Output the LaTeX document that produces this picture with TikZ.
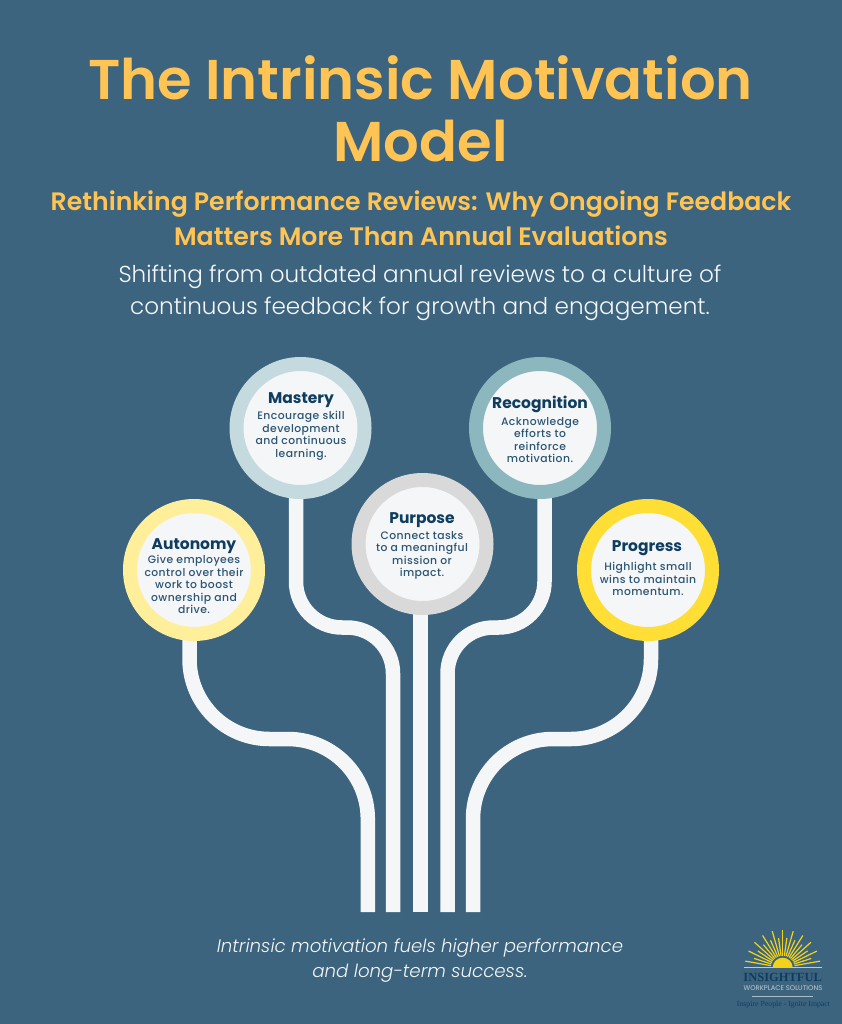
\documentclass[tikz,border=0pt]{standalone}
\usepackage{fontspec}
\setmainfont{Poppins}
\newfontfamily\semifont{Poppins SemiBold}
\newfontfamily\lightfont{Poppins Light}
\newfontfamily\medfont{Poppins Medium}[LetterSpace=4]
\usetikzlibrary{backgrounds}
\definecolor{panelblue}{HTML}{3D647E}
\definecolor{stemwhite}{HTML}{F4F6F8}
\definecolor{titlegold}{HTML}{FFC453}
\definecolor{headnavy}{HTML}{0F3D5F}
\definecolor{textnavy}{HTML}{2C5572}
\definecolor{ringauto}{HTML}{FFEF9A}
\definecolor{ringmast}{HTML}{C5DADF}
\definecolor{ringpurp}{HTML}{D9D9D9}
\definecolor{ringreco}{HTML}{8DB7BF}
\definecolor{ringprog}{HTML}{FFDF35}
\definecolor{sunyellow}{HTML}{F2D21B}
\tikzset{
  ring/.style={circle,draw=#1,fill=stemwhite,line width=14,minimum size=128,inner sep=0,outer sep=0},
  stem/.style={draw=stemwhite,line width=14.5},
  headtext/.style={text=headnavy,font=\bfseries\fontsize{15.5}{18}\selectfont},
  bodytext/.style={text=textnavy,align=center,font=\medfont\fontsize{10.8}{12.5}\selectfont},
}
\begin{document}
\begin{tikzpicture}[x=1pt,y=-1pt]
	\useasboundingbox (0,0) rectangle (842,1024);
	%%%%% TEXT %%%%%
	\node[text=titlegold,align=center,font=\semifont\fontsize{56}{62}\selectfont] (title) at (420.5,108.5) {The Intrinsic Motivation\\Model};
	\node[text=titlegold,align=center,font=\semifont\fontsize{25.2}{35}\selectfont] (subtitle) at (421,218) {Rethinking Performance Reviews: Why Ongoing Feedback\\Matters More Than Annual Evaluations};
	\node[text=stemwhite,align=center,font=\lightfont\fontsize{23.1}{32}\selectfont] (intro) at (420,293) {Shifting from outdated annual reviews to a culture of\\continuous feedback for growth and engagement.};
	\node[text=stemwhite,align=center,font=\lightfont\itshape\fontsize{18.2}{25}\selectfont] (closing) at (420,961) {Intrinsic motivation fuels higher performance\\and long-term success.};

	%%%%% CIRCLES %%%%%
	\node[ring=ringauto] (autonomy) at (194,570) {};
	\node[ring=ringmast] (mastery) at (300.5,428) {};
	\node[ring=ringpurp] (purpose) at (422.5,544) {};
	\node[ring=ringreco] (recognition) at (540,428) {};
	\node[ring=ringprog] (progress) at (648,570) {};

	\node[headtext] (autonomyhead) at (194,546) {Autonomy};
	\node[bodytext] (autonomybody) at (194,584.5) {Give employees\\control over their\\work to boost\\ownership and\\drive.};
	\node[headtext] (masteryhead) at (301,400) {Mastery};
	\node[bodytext] (masterybody) at (301,436) {Encourage skill\\development\\and continuous\\learning.};
	\node[headtext] (purposehead) at (422,520) {Purpose};
	\node[bodytext] (purposebody) at (422,555.5) {Connect tasks\\to a meaningful\\mission or\\impact.};
	\node[headtext] (recognitionhead) at (540,404) {Recognition};
	\node[bodytext] (recognitionbody) at (540,440) {Acknowledge\\efforts to\\reinforce\\motivation.};
	\node[headtext] (progresshead) at (647,548) {Progress};
	\node[bodytext] (progressbody) at (648,579) {Highlight small\\wins to maintain\\momentum.};

	%%%%% STEMS %%%%%
	\coordinate (autonomybend) at (367.8,739);
	\coordinate (autonomyroot) at (367.8,912);
	\coordinate (masterybend) at (393,627.5);
	\coordinate (masteryroot) at (393,912);
	\coordinate (purposeroot) at (420.3,912);
	\coordinate (recognitionbend) at (447.5,627.5);
	\coordinate (recognitionroot) at (447.5,912);
	\coordinate (progressbend) at (473,739);
	\coordinate (progressroot) at (473,912);

	\begin{pgfonlayer}{background}
		\fill[panelblue] (0,0) rectangle (842,1024);
		\draw[stem,rounded corners=80] ([xshift=-4.5]autonomy.center) |- (autonomybend) -- (autonomyroot);
		\draw[stem,rounded corners=46] ([xshift=-4.5]mastery.center) |- (masterybend) -- (masteryroot);
		\draw[stem] ([xshift=-2.2]purpose.center) -- (purposeroot);
		\draw[stem,rounded corners=46] ([xshift=4.5]recognition.center) |- (recognitionbend) -- (recognitionroot);
		\draw[stem,rounded corners=80] ([xshift=3]progress.center) |- (progressbend) -- (progressroot);
	\end{pgfonlayer}

	%%%%% LOGO %%%%%
	\foreach \a in {10,26,...,170} {
		\draw[sunyellow,line width=1.2] (782.7,967.7) ++(-\a:12) -- ++(-\a:26);
	}
	\foreach \a in {18,34,...,162} {
		\draw[sunyellow,line width=1.2] (782.7,967.7) ++(-\a:12) -- ++(-\a:18);
	}
	\fill[sunyellow] (772.7,967.7) arc (180:360:10 and 10);
	\draw[sunyellow,line width=1] (744,967.7) -- (822,967.7);
	\node[text=headnavy,font=\fontspec{Liberation Serif}\bfseries\fontsize{12.5}{14}\selectfont] (logoname) at (782.7,977) {INSIGHTFUL};
	\node[text=stemwhite!70!panelblue,font=\fontsize{6.8}{7}\selectfont] (logosub) at (783,988) {WORKPLACE SOLUTIONS};
	\draw[stemwhite!60!panelblue,line width=0.6] (752,996.3) -- (813,996.3);
	\node[text=headnavy,font=\fontspec{Liberation Serif}\fontsize{7.8}{8}\selectfont] (logotag) at (783.5,1005) {Inspire People - Ignite Impact};
\end{tikzpicture}
\end{document}
